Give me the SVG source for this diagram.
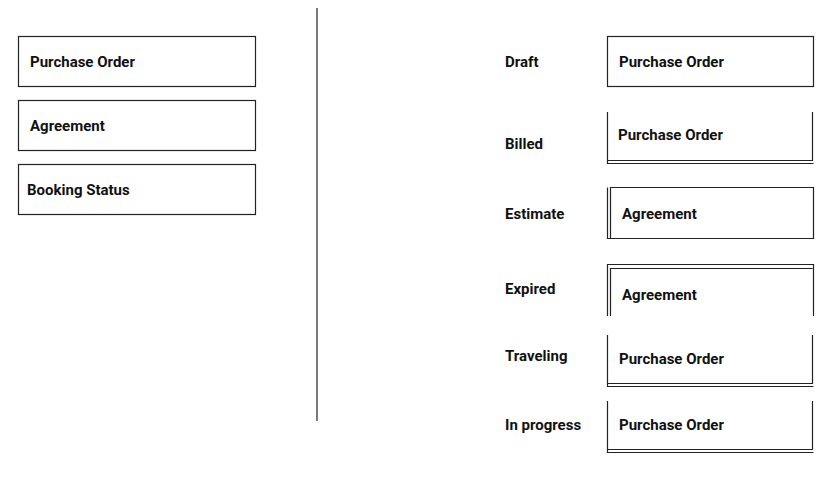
<svg xmlns="http://www.w3.org/2000/svg" width="824" height="484" viewBox="0 0 824 484">
<style>
text{font-family:Roboto,"Liberation Sans",sans-serif;font-weight:bold;font-size:15px;fill:#111}
.b{fill:none;stroke:#222;stroke-width:1.2}
</style>
<rect width="824" height="484" fill="#fff"/>
<g id="divider"><line class="b" x1="317" y1="8" x2="317" y2="421"/></g>
<g id="left-po"><rect class="b" x="18.5" y="36.5" width="237" height="50"/><text x="30" y="67">Purchase Order</text></g>
<g id="left-agreement"><rect class="b" x="18.5" y="100.5" width="237" height="50"/><text x="30" y="131">Agreement</text></g>
<g id="left-booking"><rect class="b" x="18.5" y="164.5" width="237" height="50"/><text x="27" y="195">Booking Status</text></g>
<g id="draft"><text x="505" y="67">Draft</text><rect class="b" x="607.5" y="36.5" width="206" height="50"/><text x="619" y="67">Purchase Order</text></g>
<g id="billed"><text x="505" y="149">Billed</text><path class="b" d="M607.5 112V163.5H813.5M607.5 160.5H812.5V112"/><text x="618" y="140">Purchase Order</text></g>
<g id="estimate"><text x="505" y="219">Estimate</text><path class="b" d="M607.5 187.5V238.5H813.5V187.5H610.5V238.5"/><text x="622" y="219">Agreement</text></g>
<g id="expired"><text x="505" y="294">Expired</text><path class="b" d="M607.5 316V264.5H813.5V316M610.5 316V268.5H812.5"/><text x="622" y="300">Agreement</text></g>
<g id="traveling"><text x="505" y="361">Traveling</text><path class="b" d="M607.5 335V386.5H813.5M607.5 383.5H812.5V335"/><text x="619" y="364">Purchase Order</text></g>
<g id="inprogress"><text x="505" y="430">In progress</text><path class="b" d="M607.5 401V452.5H813.5M607.5 449.5H812.5V401"/><text x="619" y="430">Purchase Order</text></g>
<g id="connectors"></g>
</svg>
